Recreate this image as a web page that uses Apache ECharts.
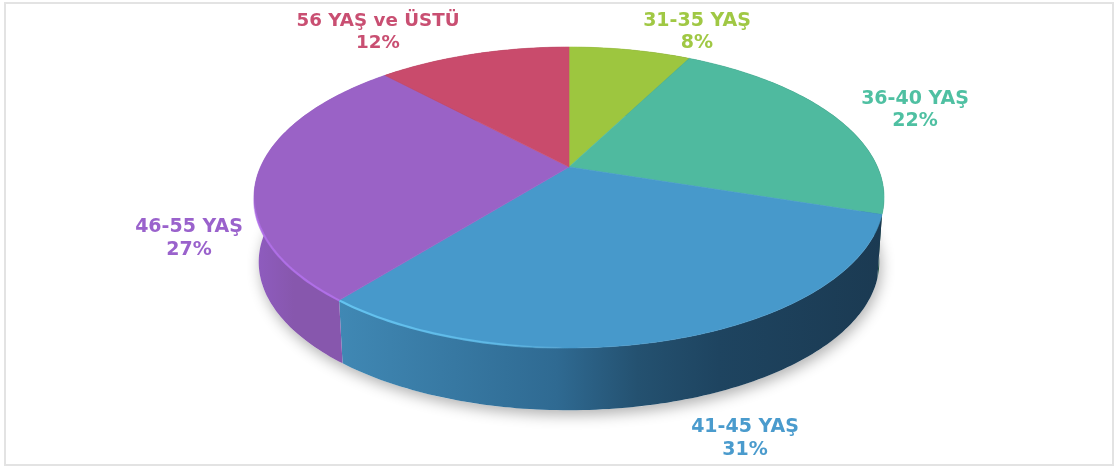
<!DOCTYPE html>
<html>
<head>
<meta charset="utf-8">
<style>html,body{margin:0;padding:0;background:#fff}#c{width:1115px;height:466px}</style>
<script src="https://cdn.jsdelivr.net/npm/echarts@6/dist/echarts.min.js"></script>
</head>
<body>
<div id="c"></div>
<script>
// ---- data ----
var categories = ['31-35 YAŞ', '36-40 YAŞ', '41-45 YAŞ', '46-55 YAŞ', '56 YAŞ ve ÜSTÜ'];
var shares = [7.6, 22.4, 30.8, 27.2, 12.0];

// ---- style ----
var topColors = ['#9dc63f', '#4fba9f', '#4799cb', '#9a62c6', '#c94b6c'];
var labelColors = ['#a0c844', '#4fc0a2', '#4a9bcd', '#9a62cc', '#c94f72'];
var wallStops = [
  [['#6f8c2c', '#3f5218']],
  [['#1f5f4e', '#1b4a3e']],
  [['#4088b4', 0], ['#2f6a92', 0.40], ['#245170', 0.55], ['#1e4460', 0.70], ['#1b3a52', 1]],
  [['#8f5cc0', 0], ['#8757ad', 0.3], ['#8757ad', 1]],
  [['#8a3049', '#6a2438']]
];
var labelCentres = [[697, 32], [915, 110], [745, 438.5], [189, 238.5], [378, 32.5]];
var labelSizes = [19, 19, 19, 19, 18.3];
var P = { cx: 569, cy: 167, R: 308.5, B: 144.3, k: 0.2026, depth: 65, squeeze: 0.985 };

function project(deg, lower) {
  var t = deg * Math.PI / 180, w = 1 + P.k * Math.cos(t);
  var x = P.R * Math.sin(t) / w, y = -P.B * Math.cos(t) / w;
  if (lower) return [P.cx + x * P.squeeze, P.cy + y * P.squeeze + P.depth];
  return [P.cx + x, P.cy + y];
}
function rim(a, b, lower) {
  var pts = [], n = Math.max(2, Math.ceil(Math.abs(b - a)));
  for (var i = 0; i <= n; i++) pts.push(project(a + (b - a) * i / n, lower));
  return pts;
}
var total = shares.reduce(function (s, v) { return s + v; }, 0);
var bounds = [0];
shares.forEach(function (v, i) { bounds.push(bounds[i] + v / total * 360); });

function hGrad(stops) {
  return stops.length === 1
    ? [{ offset: 0, color: stops[0][0] }, { offset: 1, color: stops[0][1] }]
    : stops.map(function (s) { return { offset: s[1], color: s[0] }; });
}

function renderShadow(params) {
  if (params.dataIndex !== 0) return;
  return {
    type: 'polygon',
    shape: { points: rim(0, 360, true) },
    style: { fill: '#ffffff', shadowBlur: 14, shadowColor: 'rgba(0,0,0,0.3)', shadowOffsetX: 2, shadowOffsetY: 5 }
  };
}
function renderWall(params) {
  var i = params.dataIndex, a = bounds[i], b = bounds[i + 1];
  var pts = rim(a, b, false).concat(rim(a, b, true).reverse());
  var xs = pts.map(function (p) { return p[0]; });
  var x0 = Math.min.apply(null, xs), x1 = Math.max.apply(null, xs);
  return {
    type: 'polygon', shape: { points: pts },
    style: { fill: new echarts.graphic.LinearGradient(x0, 0, x1, 0, hGrad(wallStops[i]), true) }
  };
}
function renderTop(params) {
  var i = params.dataIndex, a = bounds[i], b = bounds[i + 1];
  var pts = [[P.cx, P.cy]].concat(rim(a, b, false));
  var kids = [{
    type: 'polygon', shape: { points: pts },
    style: { fill: topColors[i], stroke: topColors[i], lineWidth: 0.6 }
  }];
  if (i === 2) {
    kids.push({
      type: 'polyline', shape: { points: rim(b, b - 55, false) },
      style: {
        fill: null, lineWidth: 2.2,
        stroke: new echarts.graphic.LinearGradient(345, 0, 570, 0, [
          { offset: 0, color: 'rgba(100,195,240,1)' },
          { offset: 0.7, color: 'rgba(100,195,240,0.7)' },
          { offset: 1, color: 'rgba(100,195,240,0)' }
        ], true)
      }
    });
  }
  if (i === 3) {
    kids.push({
      type: 'polyline', shape: { points: rim(a, a + 56, false) },
      style: {
        fill: null, lineWidth: 2.2,
        stroke: new echarts.graphic.LinearGradient(0, 195, 0, 298, [
          { offset: 0, color: 'rgba(178,112,235,0)' },
          { offset: 0.25, color: 'rgba(178,112,235,0.8)' },
          { offset: 1, color: 'rgba(178,112,235,0.9)' }
        ], true)
      }
    });
  }
  kids.push({
    type: 'text',
    style: {
      x: labelCentres[i][0], y: labelCentres[i][1],
      text: categories[i] + '\n' + Math.round(shares[i]) + '%',
      fill: labelColors[i], align: 'center', verticalAlign: 'middle',
      font: 'bold ' + labelSizes[i] + 'px "DejaVu Sans"', lineHeight: 22.5
    }
  });
  return { type: 'group', children: kids };
}

var chart = echarts.init(document.getElementById('c'), null, { renderer: 'canvas' });
chart.setOption({
  animation: false,
  backgroundColor: '#ffffff',
  graphic: [{
    type: 'rect', silent: true, z: -1,
    shape: { x: 5, y: 3, width: 1108, height: 462 },
    style: { fill: '#ffffff', stroke: '#e3e3e3', lineWidth: 2 }
  }],
  series: [
    { type: 'custom', coordinateSystem: 'none', z: 1, silent: true, data: shares, renderItem: renderShadow },
    { type: 'custom', coordinateSystem: 'none', z: 2, silent: true, data: shares, renderItem: renderWall },
    { type: 'custom', coordinateSystem: 'none', z: 3, silent: true, data: shares, renderItem: renderTop }
  ]
});
</script>
</body>
</html>
